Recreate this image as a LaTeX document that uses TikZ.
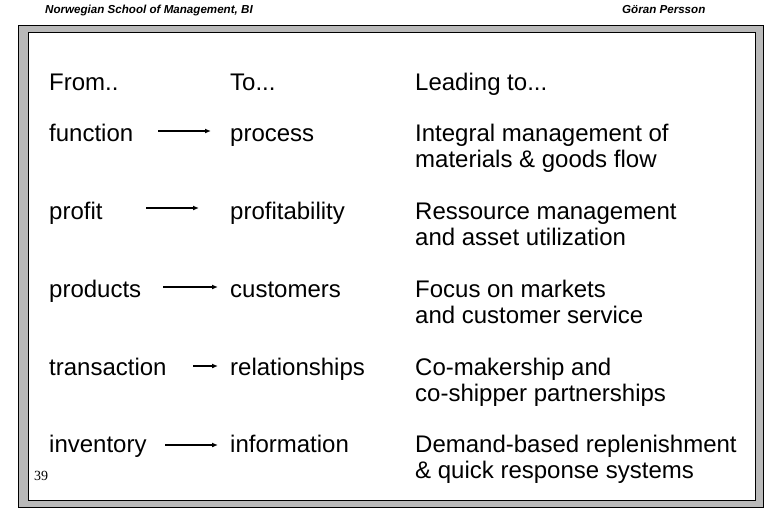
\documentclass[tikz,border=0pt]{standalone}
\usepackage{fontspec}
\setmainfont{Liberation Sans}
\newfontfamily\serifnum{Liberation Serif}
\usetikzlibrary{arrows.meta}
\begin{document}
\begin{tikzpicture}[x=1pt,y=-1pt,
  txt/.style={anchor=base west,inner sep=0pt,font=\fontsize{24}{26}\selectfont},
  hdr/.style={anchor=base west,inner sep=0pt,font=\fontsize{11.6}{13}\selectfont\bfseries\itshape},
  arr/.style={-{Latex[length=6pt,width=5pt]},line width=1.4pt}]
\useasboundingbox (0,0) rectangle (780,520);
\fill[white] (0,0) rectangle (780,520);
% frame
\fill[gray!55,even odd rule] (18,25) rectangle (763,507) (28,32) rectangle (755,500);
\draw[black,line width=0.4pt] (18,25) rectangle (763,507) (28,32) rectangle (755,500);
\node[hdr] (h1) at (45,13) {Norwegian School of Management, BI};
\node[hdr] (h2) at (622,13) {Göran Persson};
\node[txt] (c1) at (49,90) {From..};
\node[txt] (c2) at (230,90) {To...};
\node[txt] (c3) at (415,90) {Leading to...};
\node[txt] (a1) at (49,141) {function};
\node[txt] (b1) at (230,141) {process};
\node[txt] (d1) at (415,141) {Integral management of};
\node[txt] (d1b) at (415,167) {materials \& goods flow};
\node[txt] (a2) at (49,219) {profit};
\node[txt] (b2) at (230,219) {profitability};
\node[txt] (d2) at (415,219) {Ressource management};
\node[txt] (d2b) at (415,245) {and asset utilization};
\node[txt] (a3) at (49,297) {products};
\node[txt] (b3) at (230,297) {customers};
\node[txt] (d3) at (415,297) {Focus on markets};
\node[txt] (d3b) at (415,323) {and customer service};
\node[txt] (a4) at (49,375) {transaction};
\node[txt] (b4) at (230,375) {relationships};
\node[txt] (d4) at (415,375) {Co-makership and};
\node[txt] (d4b) at (415,401) {co-shipper partnerships};
\node[txt] (a5) at (49,452) {inventory};
\node[txt] (b5) at (230,452) {information};
\node[txt] (d5) at (415,452) {Demand-based replenishment};
\node[txt] (d5b) at (415,478) {\& quick response systems};
\node[anchor=base west,inner sep=0pt,font=\serifnum\fontsize{14}{16}\selectfont] (pg) at (34,480) {39};
\coordinate (s1) at (158,131); \coordinate (e1) at (211,131);
\coordinate (s2) at (146,208); \coordinate (e2) at (199,208);
\coordinate (s3) at (163,287); \coordinate (e3) at (218,287);
\coordinate (s4) at (193,366); \coordinate (e4) at (218,366);
\coordinate (s5) at (165,445); \coordinate (e5) at (218,445);
\foreach \i in {1,...,5} {\draw[arr] (s\i) -- (e\i);}
\end{tikzpicture}
\end{document}
